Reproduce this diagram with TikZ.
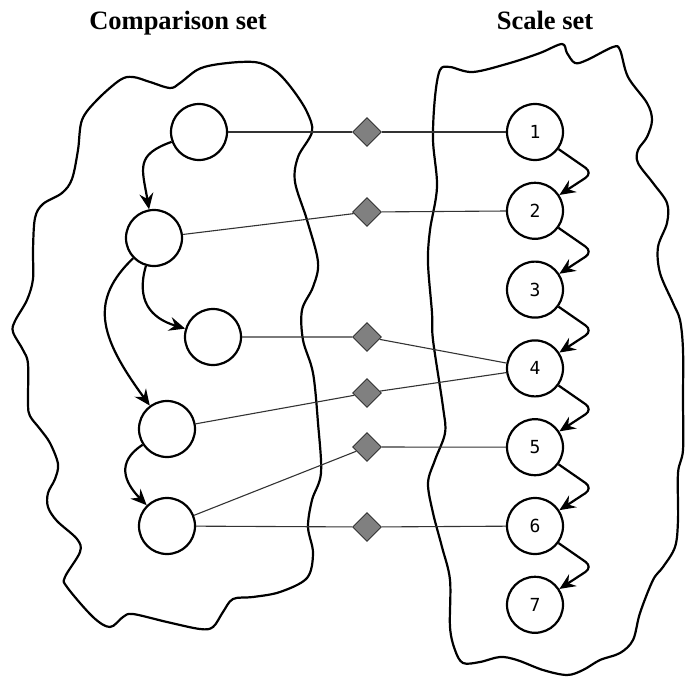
\documentclass[tikz,border=0pt]{standalone}
\usepackage{fontspec}
\setmainfont{Liberation Serif}
\newfontfamily\digitfont{DejaVu Sans Mono}
\usetikzlibrary{shapes.geometric,arrows.meta}

\begin{document}
\begin{tikzpicture}[x=1pt,y=-1pt,
  item/.style={circle,draw,line width=2.2pt,minimum size=56pt,inner sep=0pt,
    font=\digitfont\fontsize{18}{18}\selectfont},
  link/.style={diamond,draw=black!80,line width=0.9pt,fill=black!50,
    minimum width=29pt,minimum height=29pt,inner sep=0pt},
  wire/.style={line width=1.1pt,draw=black!80},
  order/.style={line width=2.2pt,-{Stealth[length=16pt,width=14pt,inset=5.5pt]}},
  outline/.style={line width=2.2pt,line join=round},
  title/.style={font=\bfseries\fontsize{26.5}{26.5}\selectfont,anchor=base}]
\useasboundingbox (0,0) rectangle (685,677);

% headings
\node[title] (ttlcomp) at (178,30) {Comparison set};
\node[title] (ttlscale) at (545,30) {Scale set};

% outline of the comparison set
\draw[outline] plot[smooth cycle,tension=0.55] coordinates {
  (97,100) (120,80) (133,77) (150,82) (170,88) (180,83) (197,70) (213,65)
  (240,62) (260,63) (277,72) (293,90) (307,112) (312,132) (298,157)
  (295,182) (307,220) (318,262) (313,287) (302,310) (303,340) (313,373)
  (318,423) (321,473) (312,500) (308,527) (313,553) (307,578) (280,592)
  (253,597) (233,599) (223,612) (213,627) (200,629) (167,622) (133,614)
  (123,617) (110,627) (93,617) (67,587) (65,577) (80,552) (77,539)
  (57,521) (48,507) (48,493) (55,479) (58,464) (50,443) (40,429) (30,416)
  (28,404) (28,364) (23,350) (13,332) (15,321) (27,300) (33,279) (33,250)
  (35,218) (43,204) (62,193) (72,179) (78,150) (82,120)};

% outline of the scale set
\draw[outline] plot[smooth cycle,tension=0.55] coordinates {
  (440,70) (450,67) (473,72) (510,63) (540,53) (562,44) (567,53) (575,63)
  (587,60) (613,47) (620,50) (628,77) (647,103) (652,120) (647,137)
  (638,150) (638,163) (653,183) (667,203) (667,223) (658,247) (660,273)
  (673,303) (680,320) (683,350) (683,400) (683,450) (678,473) (678,520)
  (675,547) (663,567) (653,580) (640,613) (633,640) (620,653) (600,660)
  (583,670) (567,675) (543,670) (517,660) (500,657) (480,662) (463,663)
  (455,650) (450,627) (450,580) (442,547) (433,513) (428,483) (435,460)
  (445,433) (443,407) (433,340) (432,313) (428,263) (430,230) (437,187)
  (433,140) (435,97)};

% comparison items
\node[item] (A) at (199,132) {};
\node[item] (B) at (154,238) {};
\node[item] (C) at (213,337) {};
\node[item] (D) at (167,429) {};
\node[item] (E) at (167,526) {};

% scale items
\foreach \k in {1,...,7}
  \node[item] (r\k) at (535,{132+78.8*(\k-1)}) {\k};

% comparison links
\node[link] (d1) at (367,132) {};
\node[link] (d2) at (367,212) {};
\node[link] (d3) at (367,337) {};
\node[link] (d4) at (367,393) {};
\node[link] (d5) at (367,447) {};
\node[link] (d6) at (367,527) {};

\draw[wire] (A) -- (d1) -- (r1);
\draw[wire] (B) -- (d2) -- (r2);
\draw[wire] (C) -- (d3) -- (r4);
\draw[wire] (D) -- (d4) -- (r4);
\draw[wire] (E) -- (d5) -- (r5);
\draw[wire] (E) -- (d6) -- (r6);

% ordering inside the comparison set
\draw[order] (A) .. controls (135,155) and (142,168) .. (B);
\draw[order] (B) .. controls (136,300) and (150,318) .. (C);
\draw[order] (B) .. controls (90,300) and (98,335) .. (D);
\draw[order] (D) .. controls (116,462) and (124,482) .. (E);

% ordering inside the scale set
\foreach \k [count=\n from 2] in {1,...,6} {
  \coordinate (c\k) at (593,{132+78.8*(\k-1)+41});
  \draw[order,rounded corners=9pt] (r\k.-36) -- (c\k) -- (r\n.33);
}
\end{tikzpicture}
\end{document}
